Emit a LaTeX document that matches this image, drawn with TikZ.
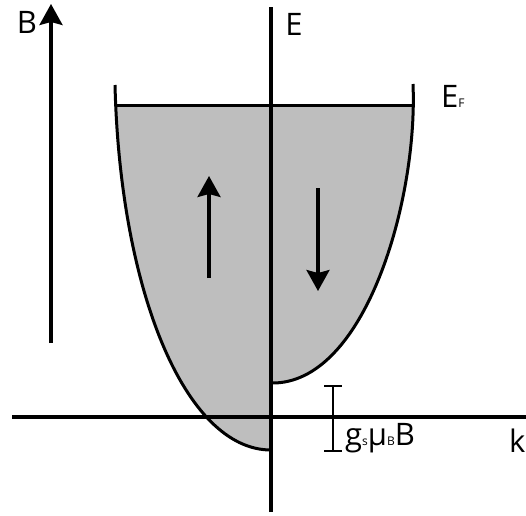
\documentclass[tikz,border=0pt]{standalone}
\usepackage{fontspec}
\setmainfont{Open Sans}
\usetikzlibrary{arrows.meta}
\definecolor{bandfill}{RGB}{190,190,190}
\newcommand{\tinysub}[1]{{\fontsize{12}{12}\selectfont #1}}
\tikzset{
  axisline/.style={line width=3.1pt},
  curveline/.style={line width=3pt},
  bigarrow/.style={line width=3.1pt,-{Stealth[length=21pt,width=23pt,inset=3pt]}},
  lbl/.style={inner sep=0pt,font=\fontsize{31}{36}\selectfont}
}
\begin{document}
\begin{tikzpicture}[x=1pt,y=-1pt]
\useasboundingbox (0,0) rectangle (526,515);
% band edge points
\coordinate (upTop) at (115,85);
\coordinate (upMin) at (271,450);
\coordinate (dnMin) at (271,383);
\coordinate (dnTop) at (413,84);
% fill of the two bands up to E_F
\begin{scope}
\clip (0,105) rectangle (526,515);
\fill[bandfill] (upTop) .. controls (120,290) and (185,450) .. (upMin)
  -- (dnMin) .. controls (365,385) and (418,200) .. (dnTop) -- cycle;
\end{scope}
% band edges
\draw[curveline] (upTop) .. controls (120,290) and (185,450) .. (upMin);
\draw[curveline] (dnMin) .. controls (365,385) and (418,200) .. (dnTop);
% Fermi level
\coordinate (efL) at (115.5,105);
\coordinate (efR) at (413.5,105);
\draw[curveline] (efL) -- (efR);
% axes
\coordinate (eBot) at (271,512);
\coordinate (eTop) at (271,7);
\coordinate (kL) at (12,417);
\coordinate (kR) at (526,417);
\draw[axisline] (eBot) -- (eTop);
\draw[axisline] (kL) -- (kR);
% B field arrow
\coordinate (bBot) at (51,343);
\coordinate (bTop) at (51,4);
\draw[bigarrow] (bBot) -- (bTop);
% spin arrows
\coordinate (upS) at (209,278);
\coordinate (upE) at (209,176);
\draw[bigarrow] (upS) -- (upE);
\coordinate (dnS) at (318,188);
\coordinate (dnE) at (318,291);
\draw[bigarrow] (dnS) -- (dnE);
% Zeeman gap bar
\coordinate (gT) at (333,386);
\coordinate (gB) at (333,451);
\draw[line width=2.6pt] (gT) -- (gB);
\draw[line width=2.6pt] (324,386) -- (342,386);
\draw[line width=2.6pt] (324,451) -- (342,451);
% labels
\node[lbl] (labB) at (27,22) {B};
\node[lbl] (labE) at (294,24) {E};
\node[lbl,anchor=base west] (labEF) at (441,107) {E\tinysub{F}};
\node[lbl,anchor=base west] (labG) at (345,445) {g\tinysub{s}μ\tinysub{B}B};
\node[lbl,anchor=base west] (labK) at (509,452) {k};
\end{tikzpicture}
\end{document}
